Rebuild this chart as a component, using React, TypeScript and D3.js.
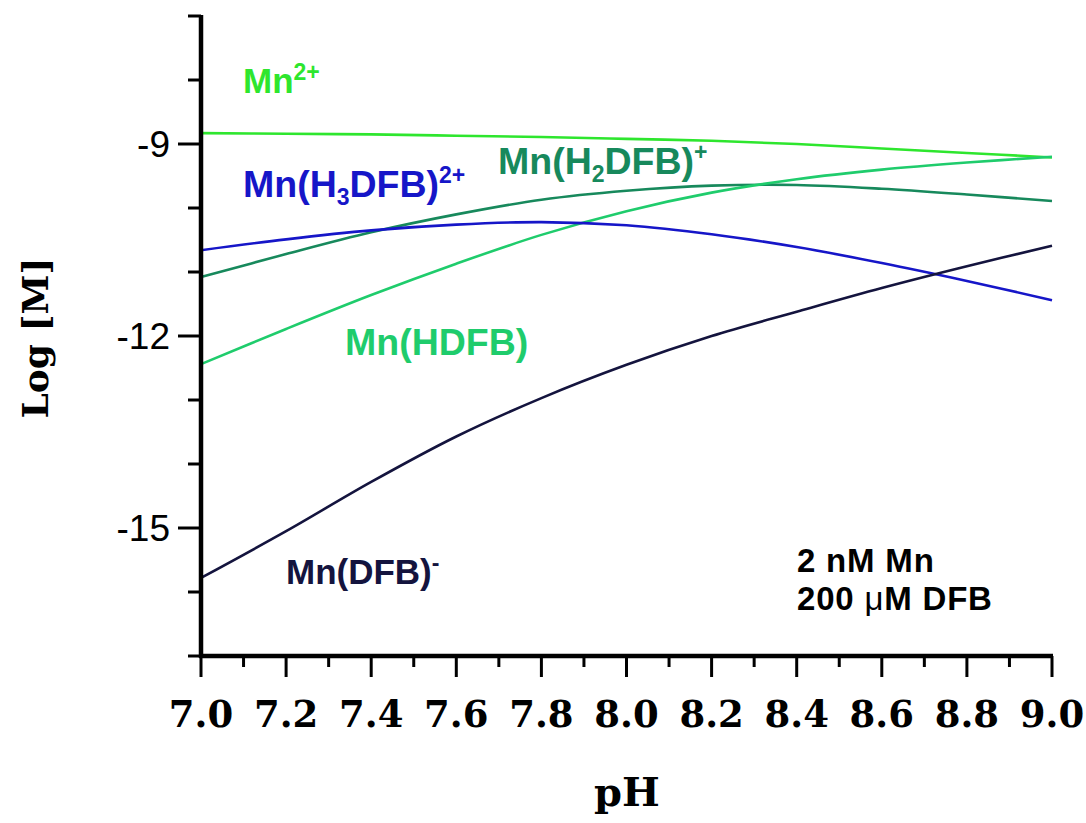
import React from "react";
import * as d3 from "d3";

const pH = [7.0, 7.2, 7.4, 7.6, 7.8, 8.0, 8.2, 8.4, 8.6, 8.8, 9.0];
const mnFree = [-8.83, -8.84, -8.85, -8.87, -8.89, -8.92, -8.95, -9.0, -9.07, -9.14, -9.21];
const mnH3DFB = [-10.66, -10.49, -10.35, -10.26, -10.22, -10.27, -10.41, -10.61, -10.86, -11.14, -11.44];
const mnH2DFB = [-11.08, -10.72, -10.38, -10.1, -9.87, -9.73, -9.65, -9.64, -9.7, -9.79, -9.89];
const mnHDFB = [-12.44, -11.89, -11.36, -10.87, -10.42, -10.05, -9.76, -9.55, -9.4, -9.29, -9.2];
const mnDFB = [-15.78, -15.05, -14.28, -13.57, -12.97, -12.45, -12.0, -11.62, -11.25, -10.91, -10.59];

const xMajorTicks = [7.0, 7.2, 7.4, 7.6, 7.8, 8.0, 8.2, 8.4, 8.6, 8.8, 9.0];
const xMinorTicks = [7.1, 7.3, 7.5, 7.7, 7.9, 8.1, 8.3, 8.5, 8.7, 8.9];
const yMajorTicks = [-9, -12, -15];
const yMinorTicks = [-7, -8, -10, -11, -13, -14, -16, -17];

const C_FREE = "#2ee62e";
const C_H3 = "#1616c8";
const C_H2 = "#17895c";
const C_H1 = "#1fcc6c";
const C_DFB = "#14143e";

export default function App() {
  const x = d3.scaleLinear().domain([7, 9]).range([201, 1052]);
  const y = d3.scaleLinear().domain([-17, -7]).range([656, 16]);
  const line = d3
    .line<[number, number]>()
    .x((d) => x(d[0]))
    .y((d) => y(d[1]))
    .curve(d3.curveCatmullRom.alpha(0.5));
  const series = [
    { v: mnFree, c: C_FREE },
    { v: mnH2DFB, c: C_H2 },
    { v: mnHDFB, c: C_H1 },
    { v: mnH3DFB, c: C_H3 },
    { v: mnDFB, c: C_DFB },
  ];
  const sans = "'Liberation Sans', Arial, sans-serif";
  const serif = "'DejaVu Serif', serif";
  const labelStyle = { fontFamily: sans, fontWeight: 700, fontSize: 35 } as const;
  const bigLabelStyle = { fontFamily: sans, fontWeight: 700, fontSize: 37.5 } as const;
  const noteStyle = { fontFamily: sans, fontWeight: 700, fontSize: 33, letterSpacing: 0.8 } as const;
  const supSize = 23;
  return (
    <svg
      width={1086}
      height={823}
      style={{ position: "absolute", left: 0, top: 0, background: "#fff" }}
    >
      {series.map((s, i) => (
        <path
          key={i}
          d={line(pH.map((p, j) => [p, s.v[j]] as [number, number])) || ""}
          fill="none"
          stroke={s.c}
          strokeWidth={2.6}
        />
      ))}
      {/* y axis */}
      <line x1={x(7)} x2={x(7)} y1={y(-7) - 1} y2={y(-17) + 2} stroke="#000" strokeWidth={4.5} />
      {yMajorTicks.map((t) => (
        <line key={"ym" + t} x1={178} x2={x(7)} y1={y(t)} y2={y(t)} stroke="#000" strokeWidth={3} />
      ))}
      {yMinorTicks.map((t) => (
        <line key={"yn" + t} x1={188} x2={x(7)} y1={y(t)} y2={y(t)} stroke="#000" strokeWidth={3} />
      ))}
      {yMajorTicks.map((t) => (
        <text
          key={"yl" + t}
          x={170}
          y={y(t) + 13}
          textAnchor="end"
          fontFamily={sans}
          fontSize={37}
          fill="#000"
        >
          {String(t)}
        </text>
      ))}
      {/* x axis */}
      <line x1={x(7) - 2} x2={x(9) + 1} y1={y(-17)} y2={y(-17)} stroke="#000" strokeWidth={4.5} />
      {xMajorTicks.map((t) => (
        <line key={"xm" + t} x1={x(t)} x2={x(t)} y1={y(-17)} y2={y(-17) + 21} stroke="#000" strokeWidth={3} />
      ))}
      {xMinorTicks.map((t) => (
        <line key={"xn" + t} x1={x(t)} x2={x(t)} y1={y(-17)} y2={y(-17) + 11} stroke="#000" strokeWidth={3} />
      ))}
      {xMajorTicks.map((t) => (
        <text
          key={"xl" + t}
          x={x(t)}
          y={727}
          textAnchor="middle"
          fontFamily={serif}
          fontWeight={700}
          fontSize={37}
          fill="#000"
        >
          {d3.format(".1f")(t)}
        </text>
      ))}
      <text x={627} y={806} textAnchor="middle" fontFamily={serif} fontWeight={700} fontSize={40} fill="#000">
        pH
      </text>
      <text
        transform="translate(48,338) rotate(-90)"
        textAnchor="middle"
        fontFamily={serif}
        fontWeight={700}
        fontSize={36}
        fill="#000"
      >
        Log [M]
      </text>
      {/* series labels */}
      <text x={243} y={93} fill={C_FREE} {...labelStyle}>
        Mn<tspan fontSize={supSize} dy={-13}>2+</tspan>
      </text>
      <text x={243} y={197} fill={C_H3} {...bigLabelStyle}>
        Mn(H<tspan fontSize={supSize} dy={8}>3</tspan>
        <tspan dy={-8}>DFB)</tspan>
        <tspan fontSize={supSize} dy={-14}>2+</tspan>
      </text>
      <text x={498} y={174} fill={C_H2} {...bigLabelStyle}>
        Mn(H<tspan fontSize={supSize} dy={8}>2</tspan>
        <tspan dy={-8}>DFB)</tspan>
        <tspan fontSize={supSize} dy={-14}>+</tspan>
      </text>
      <text x={345} y={355} fill={C_H1} {...bigLabelStyle}>
        Mn(HDFB)
      </text>
      <text x={286} y={584} fill={C_DFB} {...labelStyle}>
        Mn(DFB)<tspan fontSize={supSize} dy={-13}>-</tspan>
      </text>
      <text x={797} y={572} fill="#000" {...noteStyle}>
        2 nM Mn
      </text>
      <text x={797} y={610} fill="#000" {...noteStyle}>
        200 <tspan fontWeight={400}>μ</tspan>M DFB
      </text>
    </svg>
  );
}
